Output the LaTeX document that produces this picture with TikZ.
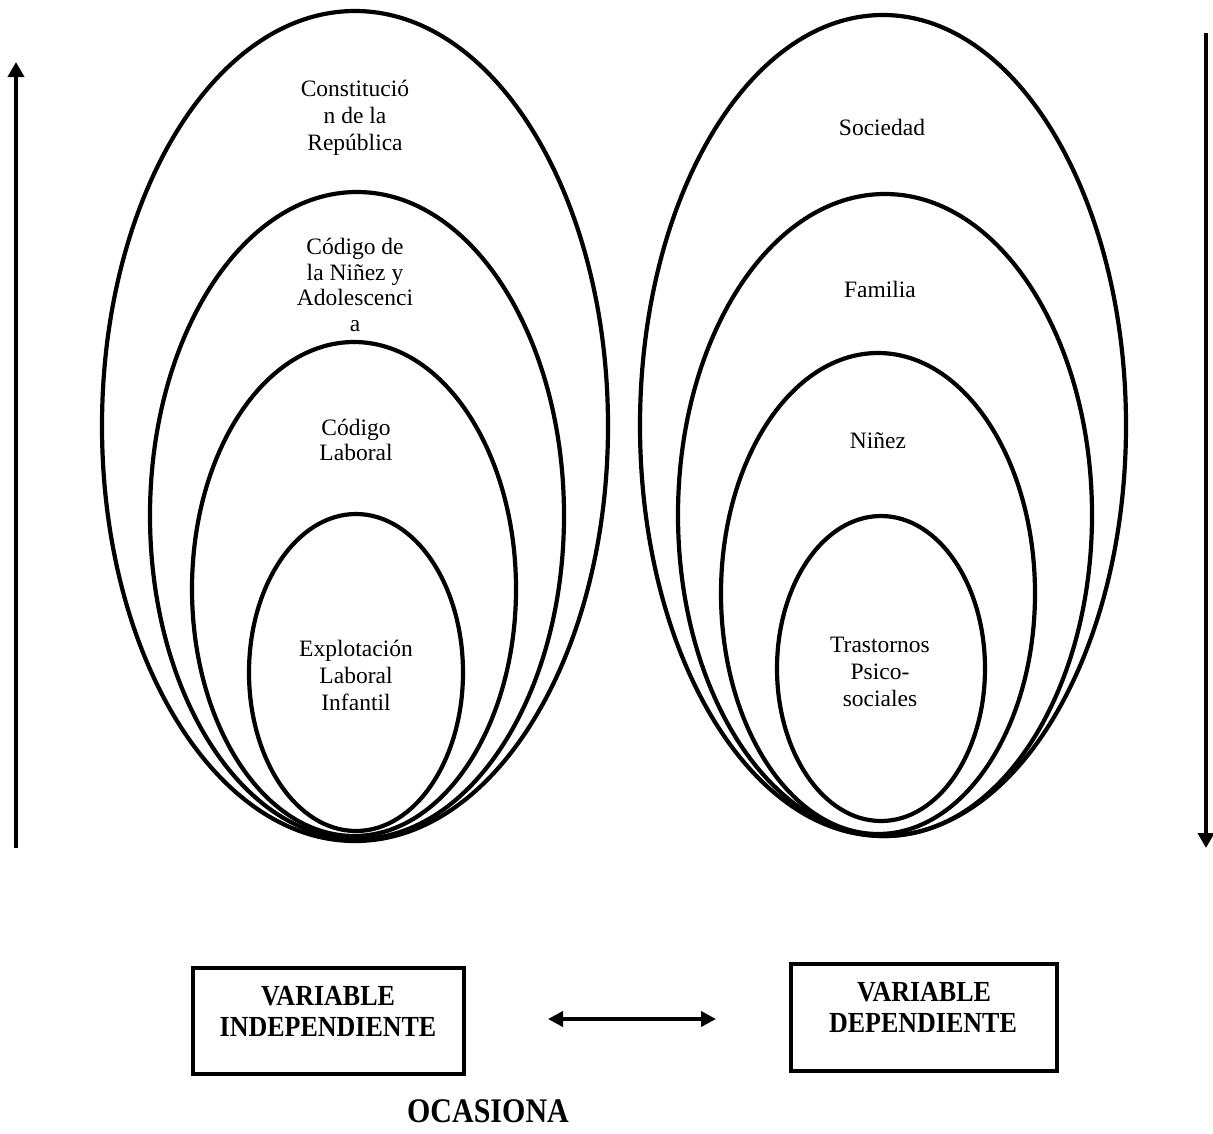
\documentclass[tikz,border=0pt]{standalone}
\usepackage{fontspec}
\setmainfont{Liberation Serif}
\usepackage{graphicx}
\usetikzlibrary{arrows.meta}
\newcommand\tallx[2][1.12]{\scalebox{1}[#1]{#2}}
\begin{document}
\begin{tikzpicture}[x=1pt,y=-1pt,
  ell/.style={line width=4.2pt},
  lbl/.style={font=\fontsize{23.5}{27}\selectfont, align=center, inner sep=0pt},
  boxlbl/.style={font=\bfseries\fontsize{26}{30}\selectfont, inner sep=0pt},
  varbox/.style={draw, line width=4pt, inner sep=0pt, outer sep=0pt},
  varrow/.style={line width=3.8pt, -{Triangle[length=15pt,width=16pt]}},
  darrow/.style={line width=3.8pt, {Triangle[length=15pt,width=15pt]}-{Triangle[length=15pt,width=15pt]}}
]
\fill[white] (0,0) rectangle (1213,1133);
\useasboundingbox (0,0) rectangle (1213,1133);

% left group
\draw[ell] (355,426) ellipse [x radius=253pt, y radius=415pt];
\draw[ell] (357,515.5) ellipse [x radius=207pt, y radius=323.5pt];
\draw[ell] (354,589) ellipse [x radius=162pt, y radius=247pt];
\draw[ell] (356,672.5) ellipse [x radius=107pt, y radius=158.5pt];

% right group
\draw[ell] (883,425.5) ellipse [x radius=243pt, y radius=410.5pt];
\draw[ell] (885,515) ellipse [x radius=207pt, y radius=321pt];
\draw[ell] (878,593.5) ellipse [x radius=157pt, y radius=240.5pt];
\draw[ell] (881,668.5) ellipse [x radius=104pt, y radius=152.5pt];

% labels left
\node[lbl] (constit) at (355,117.5) {Constitució\\n de la\\República};
\node[lbl, font=\fontsize{23.5}{25.5}\selectfont] (codnin) at (355,285) {Código de\\la Niñez y\\Adolescenci\\a};
\node[lbl, font=\fontsize{23.5}{24.5}\selectfont] (codlab) at (356,440) {Código\\Laboral};
\node[lbl] (explot) at (356,675.5) {Explotación\\Laboral\\Infantil};

% labels right
\node[lbl] (socied) at (882,127) {Sociedad};
\node[lbl] (famil) at (880,289) {Familia};
\node[lbl] (ninez) at (878,441) {Niñez};
\node[lbl] (trast) at (880,672) {Trastornos\\Psico-\\sociales};

% vertical arrows
\coordinate (la0) at (16,848);
\coordinate (la1) at (16,62);
\draw[varrow] (la0) -- (la1);
\coordinate (ra0) at (1206,33);
\coordinate (ra1) at (1206,848);
\draw[varrow] (ra0) -- (ra1);

% boxes
\node[varbox, minimum width=271pt, minimum height=106pt] (vi) at (328.5,1021) {};
\node[varbox, minimum width=266pt, minimum height=107pt] (vd) at (924,1017.5) {};
\node[boxlbl] (vi1) at (328,996) {\tallx{VARIABLE}};
\node[boxlbl] (vi2) at (328,1027) {\tallx{INDEPENDIENTE}};
\node[boxlbl] (vd1) at (924,992) {\tallx{VARIABLE}};
\node[boxlbl] (vd2) at (923,1023) {\tallx{DEPENDIENTE}};

% double arrow
\coordinate (al) at (548,1019);
\coordinate (ar) at (716,1019);
\draw[darrow] (al) -- (ar);

\node[boxlbl, font=\bfseries\fontsize{30}{34}\selectfont] (ocas) at (488,1111) {\tallx[1.15]{OCASIONA}};
\end{tikzpicture}
\end{document}
